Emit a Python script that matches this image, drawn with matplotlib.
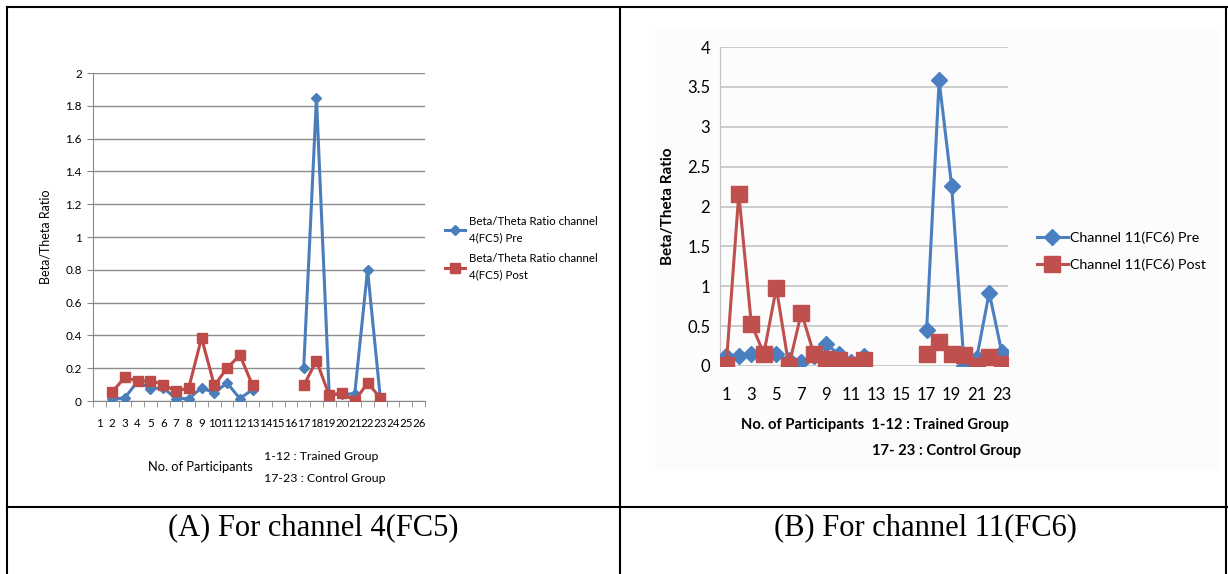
import numpy as np
import matplotlib.pyplot as plt
from matplotlib.lines import Line2D
from matplotlib.patches import Rectangle

nan = np.nan

# Panel A: channel 4 (FC5), participants 1..26
cats_a = np.arange(1, 27)
pre_a = [nan, 0.01, 0.02, 0.12, 0.075, 0.08, 0.015, 0.015, 0.08, 0.05, 0.11, 0.015, 0.07,
         nan, nan, nan, 0.20, 1.85, 0.04, 0.04, 0.045, 0.80, 0.02, nan, nan, nan]
post_a = [nan, 0.055, 0.145, 0.12, 0.125, 0.10, 0.06, 0.08, 0.385, 0.095, 0.20, 0.28, 0.095,
          nan, nan, nan, 0.095, 0.245, 0.035, 0.05, 0.0, 0.11, 0.02, nan, nan, nan]

# Panel B: channel 11 (FC6), participants 1..23
cats_b = np.arange(1, 24)
pre_b = [0.12, 0.12, 0.155, 0.15, 0.145, 0.07, 0.05, 0.12, 0.27, 0.15, 0.05, 0.12,
         nan, nan, nan, nan, 0.45, 3.58, 2.26, 0.0, 0.1, 0.92, 0.175]
post_b = [0.01, 2.16, 0.53, 0.155, 0.98, 0.0, 0.67, 0.15, 0.09, 0.08, 0.01, 0.08,
          nan, nan, nan, nan, 0.147, 0.30, 0.147, 0.134, 0.0, 0.11, 0.03]

W, H = 1228, 574
fig = plt.figure(figsize=(W / 100, H / 100), dpi=100)
fig.patch.set_facecolor('white')


def px(x, y):
    return x / W, 1 - y / H


def frame(l, t, r, b):
    return [l / W, 1 - b / H, (r - l) / W, (b - t) / H]


sans = 'Lato'

# ---------- panel A ----------
blue_a, red_a = '#4a7ebb', '#be4b48'
ax1 = fig.add_axes(frame(93, 73, 425, 401))
ax1.plot(cats_a, pre_a, color=blue_a, lw=2.2, marker='D', ms=5, label='Beta/Theta Ratio channel\n4(FC5) Pre', zorder=3)
ax1.plot(cats_a, post_a, color=red_a, lw=2.2, marker='s', ms=7, label='Beta/Theta Ratio channel\n4(FC5) Post', zorder=3)
ax1.set_xlim(0.5, 26.5)
ax1.set_ylim(0, 2)
ax1.set_yticks(np.arange(0, 2.01, 0.2))
ax1.set_yticklabels(['0', '0.2', '0.4', '0.6', '0.8', '1', '1.2', '1.4', '1.6', '1.8', '2'],
                    fontsize=8.5, family=sans)
ax1.set_xticks(cats_a)
ax1.set_xticklabels([str(c) for c in cats_a], fontsize=8.3, family=sans)
ax1.set_xticks(np.arange(0.5, 26.6, 1), minor=True)
ax1.tick_params(axis='x', which='major', length=0, pad=12)
ax1.tick_params(axis='x', which='minor', length=4, color='#888888')
ax1.tick_params(axis='y', length=4, color='#888888', pad=4)
ax1.grid(axis='y', color='#8c8c8c', lw=1)
ax1.set_axisbelow(True)
for s in ['top', 'right']:
    ax1.spines[s].set_visible(False)
for s in ['left', 'bottom']:
    ax1.spines[s].set_color('#888888')
ax1.set_ylabel('Beta/Theta Ratio', fontsize=9, family=sans, labelpad=10)
leg1 = ax1.legend(loc='upper left', bbox_to_anchor=((440 - 93) / 332, (401 - 211) / 328), frameon=False,
                  prop={'family': sans, 'size': 8.3}, handlelength=1.8, handletextpad=0.3,
                  labelspacing=0.9, borderaxespad=0)
for t in leg1.get_texts():
    t.set_linespacing(1.6)
fig.text(*px(200, 467), 'No. of Participants', fontsize=9.3, family=sans, ha='center', va='center')
fig.text(*px(264, 457), '1-12 : Trained Group', fontsize=8.9, family=sans, ha='left', va='center')
fig.text(*px(264, 478), '17-23 : Control Group', fontsize=8.9, family=sans, ha='left', va='center')

# ---------- panel B ----------
fig.add_artist(Rectangle(px(655, 470), 565 / W, 440 / H, transform=fig.transFigure,
                         facecolor='#fcfcfc', edgecolor='none', zorder=0))
blue_b, red_b = '#4a7fc1', '#c0504d'
ax2 = fig.add_axes(frame(720, 47, 1008, 366))
ax2.patch.set_alpha(0)
ax2.plot(cats_b, pre_b, color=blue_b, lw=2.2, marker='D', ms=8, label='Channel 11(FC6) Pre', zorder=3)
ax2.plot(cats_b, post_b, color=red_b, lw=2.2, marker='s', ms=11, label='Channel 11(FC6) Post', zorder=3)
ax2.set_xlim(0.5, 23.5)
ax2.set_ylim(0, 4)
ax2.set_yticks(np.arange(0, 4.01, 0.5))
ax2.set_yticklabels(['0', '0.5', '1', '1.5', '2', '2.5', '3', '3.5', '4'], fontsize=12, family=sans)
ax2.set_xticks(cats_b[::2])
ax2.set_xticklabels([str(c) for c in cats_b[::2]], fontsize=12, family=sans)
ax2.tick_params(axis='both', length=0)
ax2.tick_params(axis='x', pad=15)
ax2.tick_params(axis='y', pad=7)
ax2.grid(axis='y', color='#c4c4c4', lw=1.2)
ax2.set_axisbelow(True)
for s in ['top', 'right', 'bottom']:
    ax2.spines[s].set_visible(False)
ax2.spines['left'].set_color('#c4c4c4')
ax2.set_ylabel('Beta/Theta Ratio', fontsize=11, family=sans, fontweight='bold', labelpad=9)
ax2.legend(loc='upper left', bbox_to_anchor=((1031 - 720) / 288, (366 - 226) / 319), frameon=False,
           prop={'family': sans, 'size': 10.3}, handlelength=2.2, handletextpad=0.1, labelspacing=1.0,
           borderaxespad=0)
fig.text(*px(741, 425), 'No. of Participants  1-12 : Trained Group', fontsize=10.6, family=sans,
         fontweight='bold', ha='left', va='center')
fig.text(*px(872, 451), '17- 23 : Control Group', fontsize=10.6, family=sans,
         fontweight='bold', ha='left', va='center')

# ---------- table borders and captions ----------
def line(x0, y0, x1, y1):
    fig.add_artist(Line2D([x0 / W, x1 / W], [1 - y0 / H, 1 - y1 / H], color='black', lw=1.5))


line(7, 7, 1228, 7)
line(7, 7, 7, 574)
line(620, 7, 620, 574)
line(1226, 7, 1226, 574)
line(7, 507, 1228, 507)

fig.text(*px(313, 528), '(A) For channel 4(FC5)', fontsize=22, family='Liberation Serif',
         ha='center', va='center')
fig.text(*px(925, 528), '(B) For channel 11(FC6)', fontsize=22, family='Liberation Serif',
         ha='center', va='center')

fig.savefig('out.png', dpi=100)
